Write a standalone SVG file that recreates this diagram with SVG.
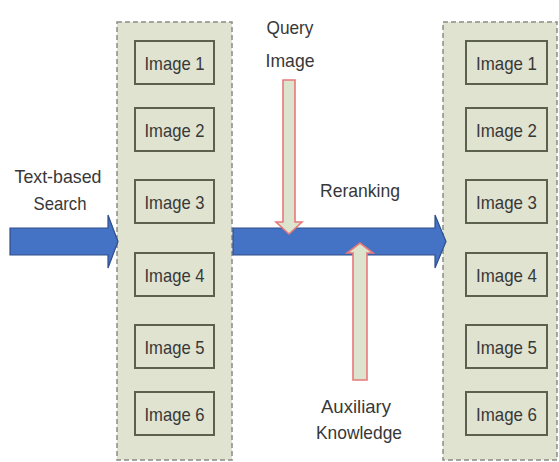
<svg xmlns="http://www.w3.org/2000/svg" width="559" height="462" viewBox="0 0 559 462">
<defs>
<style>
.panel{fill:#dfe3d0;stroke:#8c8c86;stroke-width:1.5;stroke-dasharray:5 3}
.box{fill:#dfe3d0;stroke:#5c604f;stroke-width:2}
.t{font-family:"Liberation Sans",Arial,sans-serif;font-size:19px;fill:#383838;text-anchor:middle}
.blue{fill:#4472c4;stroke:#2f4f8a;stroke-width:1.2}
.thin{fill:#dde4cd;stroke:#e8787a;stroke-width:1.6}
</style>
</defs>
<rect width="559" height="462" fill="#ffffff"/>
<g id="results-left">
<rect class="panel" x="117" y="22" width="115" height="438"/>
<g id="l-img1"><rect class="box" x="135" y="41" width="79" height="43"/><text class="t" x="174.5" y="69.5" textLength="60" lengthAdjust="spacingAndGlyphs">Image 1</text></g>
<g id="l-img2"><rect class="box" x="135" y="108" width="79" height="43"/><text class="t" x="174.5" y="136.5" textLength="60" lengthAdjust="spacingAndGlyphs">Image 2</text></g>
<g id="l-img3"><rect class="box" x="135" y="180" width="79" height="43"/><text class="t" x="174.5" y="208.5" textLength="60" lengthAdjust="spacingAndGlyphs">Image 3</text></g>
<g id="l-img4"><rect class="box" x="135" y="253" width="79" height="43"/><text class="t" x="174.5" y="281.5" textLength="60" lengthAdjust="spacingAndGlyphs">Image 4</text></g>
<g id="l-img5"><rect class="box" x="135" y="325" width="79" height="43"/><text class="t" x="174.5" y="353.5" textLength="60" lengthAdjust="spacingAndGlyphs">Image 5</text></g>
<g id="l-img6"><rect class="box" x="135" y="392" width="79" height="43"/><text class="t" x="174.5" y="420.5" textLength="60" lengthAdjust="spacingAndGlyphs">Image 6</text></g>
</g>
<g id="results-right">
<rect class="panel" x="443" y="22" width="114" height="438"/>
<g id="r-img1"><rect class="box" x="466" y="41" width="81" height="43"/><text class="t" x="506.5" y="69.5" textLength="61" lengthAdjust="spacingAndGlyphs">Image 1</text></g>
<g id="r-img2"><rect class="box" x="466" y="108" width="81" height="43"/><text class="t" x="506.5" y="136.5" textLength="61" lengthAdjust="spacingAndGlyphs">Image 2</text></g>
<g id="r-img3"><rect class="box" x="466" y="180" width="81" height="43"/><text class="t" x="506.5" y="208.5" textLength="61" lengthAdjust="spacingAndGlyphs">Image 3</text></g>
<g id="r-img4"><rect class="box" x="466" y="253" width="81" height="43"/><text class="t" x="506.5" y="281.5" textLength="61" lengthAdjust="spacingAndGlyphs">Image 4</text></g>
<g id="r-img5"><rect class="box" x="466" y="325" width="81" height="43"/><text class="t" x="506.5" y="353.5" textLength="61" lengthAdjust="spacingAndGlyphs">Image 5</text></g>
<g id="r-img6"><rect class="box" x="466" y="392" width="81" height="43"/><text class="t" x="506.5" y="420.5" textLength="61" lengthAdjust="spacingAndGlyphs">Image 6</text></g>
</g>
<g id="label-text-search"><text class="t" x="58" y="183" textLength="87" lengthAdjust="spacingAndGlyphs">Text-based</text><text class="t" x="60" y="210" textLength="53" lengthAdjust="spacingAndGlyphs">Search</text></g>
<g id="label-query"><text class="t" x="290" y="34" textLength="47" lengthAdjust="spacingAndGlyphs">Query</text><text class="t" x="290" y="67" textLength="49" lengthAdjust="spacingAndGlyphs">Image</text></g>
<g id="label-rerank"><text class="t" x="360" y="197" textLength="80" lengthAdjust="spacingAndGlyphs">Reranking</text></g>
<g id="label-aux"><text class="t" x="356" y="413" textLength="70" lengthAdjust="spacingAndGlyphs">Auxiliary</text><text class="t" x="359" y="439" textLength="86" lengthAdjust="spacingAndGlyphs">Knowledge</text></g>
<g id="connectors">
<polygon class="blue" points="10,228 108,228 108,215 118,241.5 108,268 108,255 10,255"/>
<polygon class="blue" points="233,228 435,228 435,215 446,241.5 435,268 435,255 233,255"/>
<polygon class="thin" points="283,80 295,80 295,222 302,222 289,234 276,222 283,222"/>
<polygon class="thin" points="353,380 367,380 367,253 373,253 360,243 347,253 353,253"/>
</g>
</svg>
